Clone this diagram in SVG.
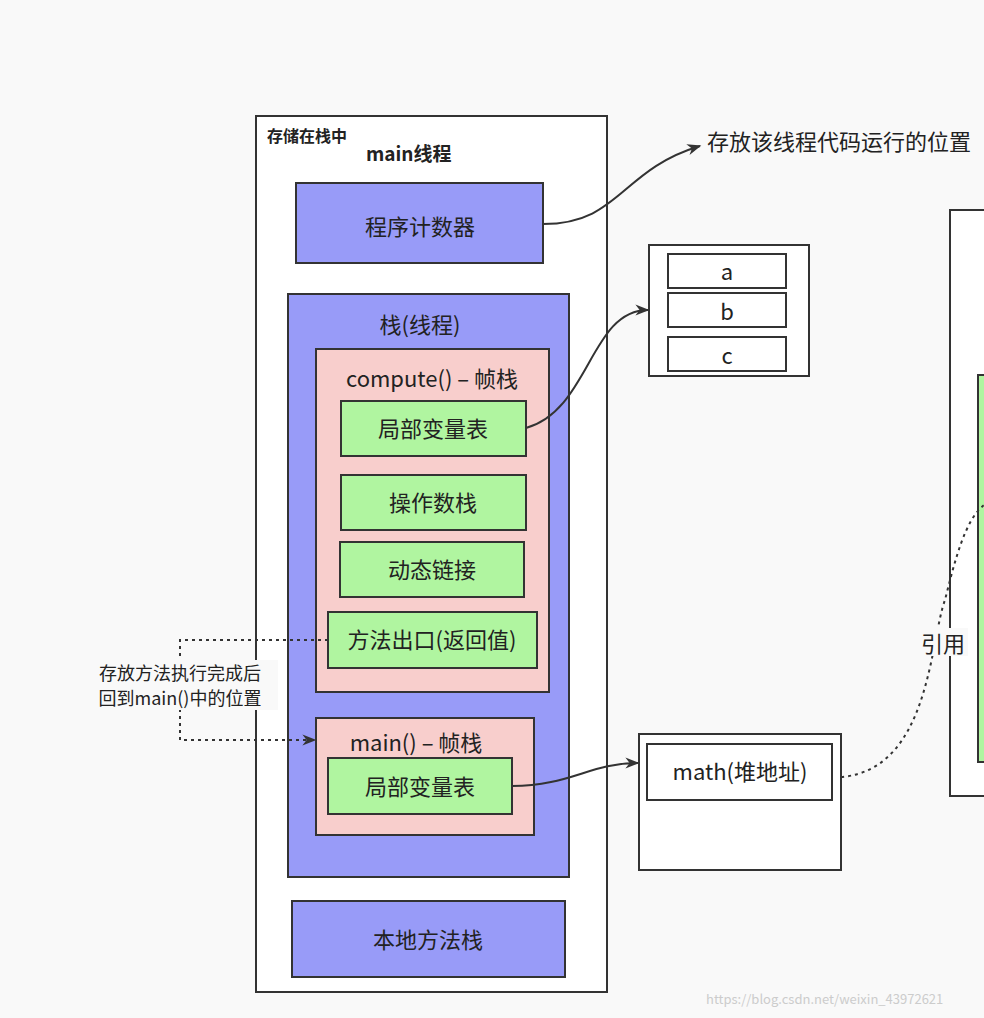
<svg xmlns="http://www.w3.org/2000/svg" width="984" height="1018" viewBox="0 0 984 1018">
<defs>
<style>
text{font-family:"Noto Sans CJK SC","Liberation Sans",sans-serif;fill:#222;}
.b{stroke:#333;stroke-width:2;}
.p{fill:#989bf8;}
.g{fill:#b0f5a0;}
.k{fill:#f8cecc;}
.w{fill:#fff;}
.t{font-size:22px;text-anchor:middle;}
.c{fill:none;stroke:#333;stroke-width:2;}
.d{fill:none;stroke:#333;stroke-width:2;stroke-dasharray:3 4;}
</style>
<marker id="a2" viewBox="0 0 10 10" refX="9" refY="5" markerWidth="20" markerHeight="14" markerUnits="userSpaceOnUse" orient="auto"><path d="M0,1 L10,5 L0,9 L3,5 Z" fill="#333"/></marker>
</defs>
<rect width="984" height="1018" fill="#f9f9f9"/>
<g id="main-thread"><rect x="256" y="116" width="351" height="876" class="b w"/>
<text x="267" y="142" font-size="16" font-weight="bold">存储在栈中</text>
<text x="366" y="161" font-size="19" font-weight="bold">main线程</text></g>
<g id="pc"><rect x="296" y="183" width="247" height="80" class="b p"/><text x="420" y="235" class="t">程序计数器</text></g>
<g id="stack"><rect x="288" y="294" width="281" height="583" class="b p"/><text x="420" y="333" class="t">栈(线程)</text></g>
<g id="compute"><rect x="316" y="349" width="233" height="343" class="b k"/><text x="432" y="387" class="t">compute() – 帧栈</text></g>
<g id="lvt1"><rect x="341" y="401" width="185" height="55" class="b g"/><text x="433" y="437" class="t">局部变量表</text></g>
<g id="ops"><rect x="341" y="475" width="185" height="55" class="b g"/><text x="433" y="511" class="t">操作数栈</text></g>
<g id="dyn"><rect x="340" y="542" width="184" height="55" class="b g"/><text x="432" y="578" class="t">动态链接</text></g>
<g id="ret"><rect x="328" y="612" width="209" height="56" class="b g"/><text x="432" y="648" class="t">方法出口(返回值)</text></g>
<g id="mainframe"><rect x="316" y="718" width="218" height="117" class="b k"/><text x="416" y="751" class="t">main() – 帧栈</text></g>
<g id="lvt2"><rect x="328" y="758" width="184" height="56" class="b g"/><text x="420" y="795" class="t">局部变量表</text></g>
<g id="native"><rect x="292" y="901" width="273" height="76" class="b p"/><text x="428" y="948" class="t">本地方法栈</text></g>
<g id="abc"><rect x="649" y="245" width="160" height="131" class="b w"/>
<rect x="668" y="254" width="118" height="34" class="b w"/><text x="727" y="280" class="t">a</text>
<rect x="668" y="293" width="118" height="34" class="b w"/><text x="727" y="320" class="t">b</text>
<rect x="668" y="337" width="118" height="34" class="b w"/><text x="727" y="364" class="t">c</text></g>
<g id="math"><rect x="639" y="734" width="202" height="136" class="b w"/><rect x="647" y="744" width="185" height="56" class="b w"/><text x="740" y="780" class="t">math(堆地址)</text></g>
<g id="heap"><rect x="950" y="210" width="50" height="586" class="b w"/><rect x="978" y="375" width="20" height="387" class="b" fill="#b0f5a0"/></g>
<g id="connectors">
<path d="M543,224 C620,224 620,170 700,146" class="c" marker-end="url(#a2)"/>
<path d="M526,428 C590,410 590,310 648,310" class="c" marker-end="url(#a2)"/>
<path d="M512,786 C570,786 590,763 638,763" class="c" marker-end="url(#a2)"/>
<path d="M841,777 C930,770 930,640 945,600 C955,560 965,520 984,505" class="d"/>
<path d="M328,640 H180 V740 H315" class="d" marker-end="url(#a2)"/>
</g>
<text x="707" y="150" font-size="22">存放该线程代码运行的位置</text>
<rect x="918" y="628" width="50" height="28" fill="#f9f9f9"/>
<text x="943" y="652" class="t">引用</text>
<rect x="84" y="660" width="194" height="50" fill="#f9f9f9"/>
<text x="180" y="680" font-size="18" text-anchor="middle">存放方法执行完成后</text>
<text x="180" y="705" font-size="18" text-anchor="middle">回到main()中的位置</text>
<text x="706" y="1004" font-size="13" style="fill:#ccc">https://blog.csdn.net/weixin_43972621</text>
</svg>
